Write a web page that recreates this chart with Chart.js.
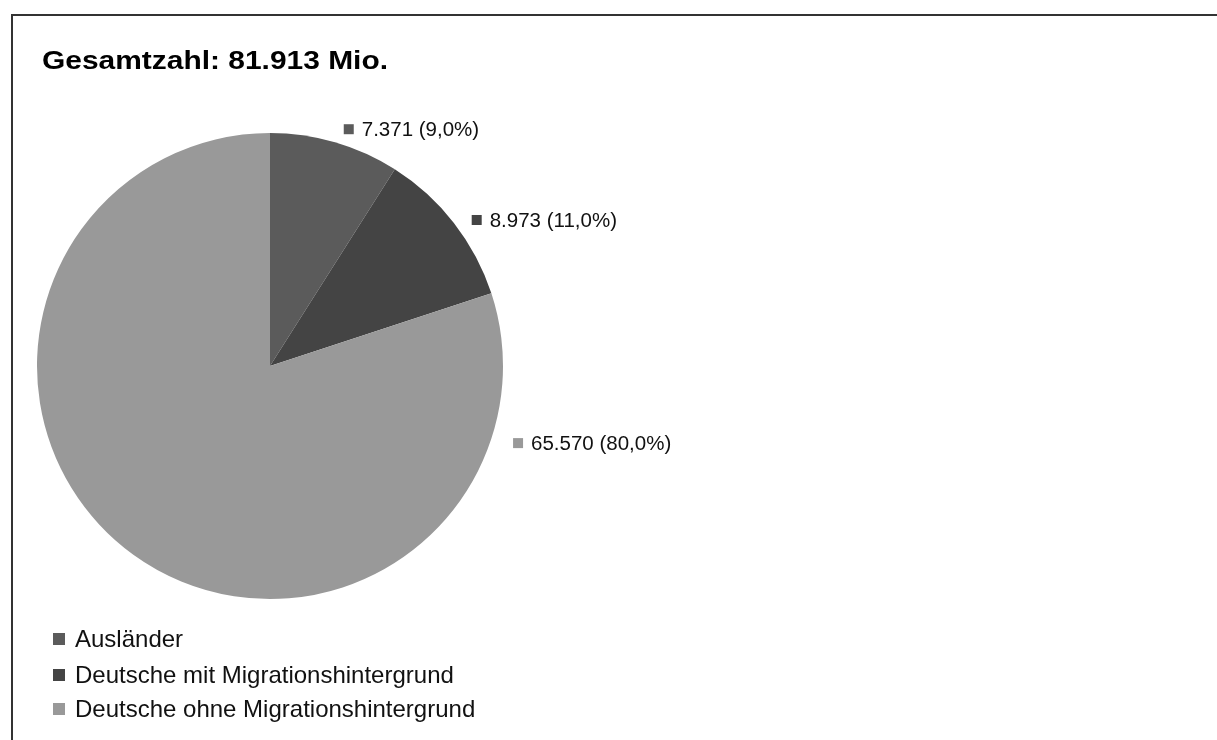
<!DOCTYPE html>
<html>
<head>
<meta charset="utf-8">
<script src="https://cdn.jsdelivr.net/npm/chart.js@4/dist/chart.umd.min.js"></script>
<style>
html,body{margin:0;padding:0;background:#fff;overflow:hidden;}
#wrap{position:absolute;left:0;top:0;width:1217px;height:740px;}
</style>
</head>
<body>
<div id="wrap"><canvas id="c" width="1217" height="740"></canvas></div>
<script>
const titleText = "Gesamtzahl: 81.913 Mio.";
const categories = ["Ausländer", "Deutsche mit Migrationshintergrund", "Deutsche ohne Migrationshintergrund"];
const values = [7.371, 8.973, 65.570];
const percentLabels = ["9,0%", "11,0%", "80,0%"];
const valueLabels = ["7.371", "8.973", "65.570"];
const colors = ["#5b5b5b", "#444444", "#999999"];

const FONT = "'Liberation Sans', Arial, sans-serif";

// label placement: angle (deg, clockwise from top) and distance beyond the pie radius
const labelPlace = [
  {ang: 17.3, off: 15},
  {ang: 54.1, off: 16},
  {ang: 107.6, off: 22}
];

const decor = {
  id: 'decor',
  beforeDraw(chart) {
    const ctx = chart.ctx;
    ctx.save();
    ctx.strokeStyle = '#333';
    ctx.lineWidth = 2;
    ctx.beginPath();
    ctx.moveTo(12, 745);
    ctx.lineTo(12, 15);
    ctx.lineTo(1220, 15);
    ctx.stroke();
    ctx.restore();
  },
  afterDraw(chart) {
    const ctx = chart.ctx;
    ctx.save();
    // title (slightly widened like the reference rendering)
    ctx.fillStyle = '#000';
    ctx.font = "bold 26px " + FONT;
    ctx.textBaseline = 'alphabetic';
    ctx.textAlign = 'left';
    const tw = ctx.measureText(titleText).width;
    ctx.save();
    ctx.translate(42, 69);
    ctx.scale(346 / tw, 1);
    ctx.fillText(titleText, 0, 0);
    ctx.restore();

    // data labels
    const meta = chart.getDatasetMeta(0);
    const arc = meta.data[0];
    const cx = arc.x, cy = arc.y, r = arc.outerRadius;
    ctx.font = "20.5px " + FONT;
    ctx.textBaseline = 'middle';
    values.forEach((v, i) => {
      const p = labelPlace[i];
      const a = p.ang * Math.PI / 180;
      const x = cx + (r + p.off) * Math.sin(a);
      const y = cy - (r + p.off) * Math.cos(a);
      ctx.fillStyle = colors[i];
      ctx.fillRect(x, y - 5, 10, 10);
      ctx.fillStyle = '#111';
      ctx.fillText(valueLabels[i] + " (" + percentLabels[i] + ")", x + 18, y + 1);
    });

    // legend
    ctx.font = "24px " + FONT;
    const ly = [639, 675, 709];
    categories.forEach((c, i) => {
      ctx.fillStyle = colors[i];
      ctx.fillRect(53, ly[i] - 6, 12, 12);
      ctx.fillStyle = '#111';
      ctx.fillText(c, 75, ly[i] + 1);
    });
    ctx.restore();
  }
};

new Chart(document.getElementById('c'), {
  type: 'pie',
  data: {
    labels: categories,
    datasets: [{
      data: values,
      backgroundColor: colors,
      borderWidth: 0
    }]
  },
  options: {
    responsive: false,
    animation: false,
    layout: {padding: {left: 37, top: 133, right: 714, bottom: 141}},
    plugins: {
      legend: {display: false},
      title: {display: false},
      tooltip: {enabled: false}
    }
  },
  plugins: [decor]
});
</script>
</body>
</html>
